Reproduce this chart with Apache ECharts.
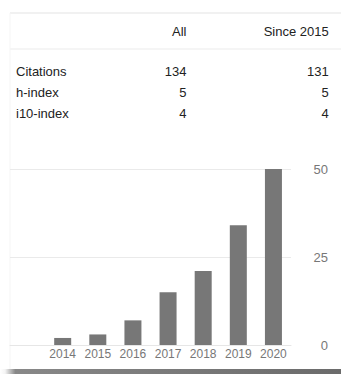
<!DOCTYPE html>
<html>
<head>
<meta charset="utf-8">
<style>
  html, body { margin: 0; padding: 0; background: #fff; }
  #chart { width: 341px; height: 374px; }
</style>
<script src="https://cdn.jsdelivr.net/npm/echarts@6/dist/echarts.min.js"></script>
</head>
<body>
<div id="chart"></div>
<script>
// Citation summary table
const columnHeads = ['All', 'Since 2015'];
const metricNames = ['Citations', 'h-index', 'i10-index'];
const metricAll = [134, 5, 4];
const metricSince = [131, 5, 4];

// Citations per year
const years = ['2014', '2015', '2016', '2017', '2018', '2019', '2020'];
const citations = [2, 3, 7, 15, 21, 34, 50];
const yTicks = [0, 25, 50];

const FONT = 'Arial, "Liberation Sans", sans-serif';
const TEXT = '#222';

const chart = echarts.init(document.getElementById('chart'), null, { renderer: 'svg' });

function txt(x, y, s, align) {
  return {
    type: 'text', x: x, y: y, silent: true,
    style: { text: String(s), font: '13px ' + FONT, fill: TEXT, align: align, verticalAlign: 'middle' }
  };
}

const graphics = [
  // card edges
  { type: 'rect', shape: { x: 10, y: 12.5, width: 331, height: 1 }, style: { fill: '#e3e3e3' }, silent: true },
  { type: 'rect', shape: { x: 10, y: 48.5, width: 331, height: 1 }, style: { fill: '#ececec' }, silent: true },
  { type: 'rect', shape: { x: 9.5, y: 13, width: 1, height: 356 }, style: { fill: '#f5f5f5' }, silent: true },
  {
    type: 'rect', shape: { x: 0, y: 369, width: 341, height: 5 }, silent: true,
    style: {
      fill: new echarts.graphic.LinearGradient(0, 0, 1, 0, [
        { offset: 0, color: '#ffffff' },
        { offset: 0.015, color: '#f4f4f4' },
        { offset: 0.045, color: '#888888' },
        { offset: 1, color: '#6b6b6b' }
      ])
    }
  },
  // table header
  txt(186.5, 31.3, columnHeads[0], 'right'),
  txt(328.7, 31.3, columnHeads[1], 'right')
];

const rowY = [71.3, 92.3, 113.6];
metricNames.forEach(function (name, i) {
  graphics.push(txt(16, rowY[i], name, 'left'));
  graphics.push(txt(186.5, rowY[i], metricAll[i], 'right'));
  graphics.push(txt(328.7, rowY[i], metricSince[i], 'right'));
});

chart.setOption({
  animation: false,
  backgroundColor: '#fff',
  grid: { left: 10, right: 50, top: 169, bottom: 29 },
  xAxis: {
    type: 'category',
    data: [''].concat(years),
    axisLine: { show: true, lineStyle: { color: '#e6e6e6', width: 1 } },
    axisTick: { show: false },
    axisLabel: { interval: 0, color: '#777', fontSize: 12, fontFamily: FONT, margin: 3 }
  },
  yAxis: {
    type: 'value',
    position: 'right',
    min: yTicks[0],
    max: yTicks[yTicks.length - 1],
    interval: yTicks[1] - yTicks[0],
    axisLine: { show: false },
    axisTick: { show: false },
    splitLine: { show: true, lineStyle: { color: '#eaeaea', width: 1 } },
    axisLabel: { color: '#777', fontSize: 13, fontFamily: FONT, align: 'right', margin: 37 }
  },
  series: [{
    type: 'bar',
    data: [null].concat(citations),
    barWidth: 17,
    itemStyle: { color: '#777' },
    silent: true
  }],
  graphic: graphics
});
</script>
</body>
</html>
